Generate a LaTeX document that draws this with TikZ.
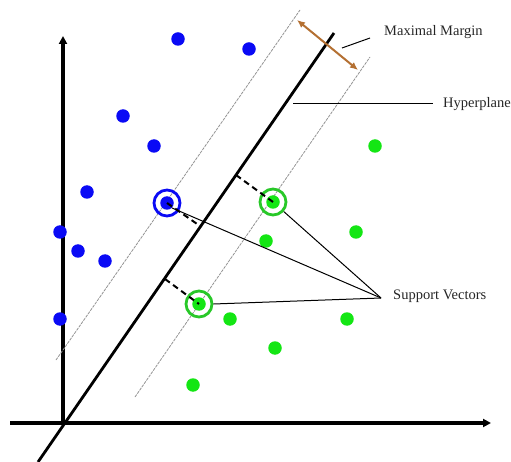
\documentclass[tikz,border=0pt]{standalone}
\usepackage{fontspec}
\setmainfont{Liberation Serif}
\usetikzlibrary{arrows.meta}
\definecolor{bdot}{RGB}{10,10,245}
\definecolor{gdot}{RGB}{20,230,20}
\definecolor{gring}{RGB}{40,200,40}
\definecolor{brownarr}{RGB}{180,112,50}
\tikzset{
  bpt/.style={circle,fill=bdot,minimum size=13.5pt,inner sep=0pt},
  gpt/.style={circle,fill=gdot,minimum size=13.5pt,inner sep=0pt},
  bring/.style={circle,draw=bdot,line width=2.8pt,minimum size=26pt,inner sep=0pt},
  gring/.style={circle,draw=gring,line width=2.8pt,minimum size=26pt,inner sep=0pt},
  axis/.style={line width=3.2pt,-{Triangle[length=8pt,width=8pt]}},
  margin/.style={gray!85,line width=0.8pt,dash pattern=on 3pt off 1pt},
  supp/.style={black,line width=2pt,dash pattern=on 6pt off 4pt},
  lab/.style={anchor=west,inner sep=0pt,font=\fontsize{14.5}{17}\selectfont,text=black!85},
  ptr/.style={black,line width=1pt}
}
\begin{document}
\begin{tikzpicture}[x=1pt,y=-1pt]
\useasboundingbox (0,0) rectangle (511,462);
% axes
\coordinate (o) at (63,423);
\coordinate (ytop) at (63,36);
\coordinate (xl) at (10,423);
\coordinate (xr) at (491,423);
\draw[axis] (o) -- (ytop);
\draw[axis] (xl) -- (xr);
% hyperplane and margins
\coordinate (h1) at (38,462);
\coordinate (h2) at (334,33);
\draw[line width=2.8pt] (h1) -- (h2);
\coordinate (l1) at (56,360);
\coordinate (l2) at (300,10);
\draw[margin] (l1) -- (l2);
\coordinate (r1) at (135,397);
\coordinate (r2) at (370,57);
\draw[margin] (r1) -- (r2);
% blue points
\node[bpt] (b1) at (178,39) {};
\node[bpt] (b2) at (249,49) {};
\node[bpt] (b3) at (123,116) {};
\node[bpt] (b4) at (154,146) {};
\node[bpt] (b5) at (87,192) {};
\node[bpt] (b6) at (60,232) {};
\node[bpt] (b7) at (78,251) {};
\node[bpt] (b8) at (105,261) {};
\node[bpt] (b9) at (60,319) {};
\node[bpt] (bs) at (167,203) {};
% green points
\node[gpt] (g1) at (375,146) {};
\node[gpt] (g2) at (356,232) {};
\node[gpt] (g3) at (266,241) {};
\node[gpt] (g4) at (230,319) {};
\node[gpt] (g5) at (347,319) {};
\node[gpt] (g6) at (275,348) {};
\node[gpt] (g7) at (193,385) {};
\node[gpt] (gs1) at (273,202) {};
\node[gpt] (gs2) at (199,304) {};
% rings
\node[bring] (bsr) at (bs) {};
\node[gring] (gsr1) at (gs1) {};
\node[gring] (gsr2) at (gs2) {};
% perpendicular distances
\coordinate (f1) at (200,226);
\coordinate (f2) at (236,175);
\coordinate (f3) at (165,279);
\draw[supp] (bs.center) -- (f1);
\draw[supp] (f2) -- (gs1.center);
\draw[supp] (f3) -- (gs2.center);
% maximal margin arrow
\coordinate (m1) at (297,20);
\coordinate (m2) at (358,70);
\draw[brownarr,line width=2pt,{Latex[length=8pt,width=7pt]}-{Latex[length=8pt,width=7pt]}] (m1) -- (m2);
% labels
\node[lab] (mm) at (384,32) {Maximal Margin};
\node[lab] (hp) at (443,104) {Hyperplane};
\node[lab] (sv) at (393,296) {Support Vectors};
\coordinate (mmp1) at (342,48);
\coordinate (mmp2) at (370,38);
\draw[ptr] (mmp1) -- (mmp2);
\coordinate (hpp1) at (293,104);
\coordinate (hpp2) at (433,104);
\draw[ptr] (hpp1) -- (hpp2);
\coordinate (tip) at (381,298);
\draw[ptr] (gsr1) -- (tip);
\draw[ptr] (bs.south east) -- (tip);
\draw[ptr] (gsr2.east) -- (tip);
\end{tikzpicture}
\end{document}
